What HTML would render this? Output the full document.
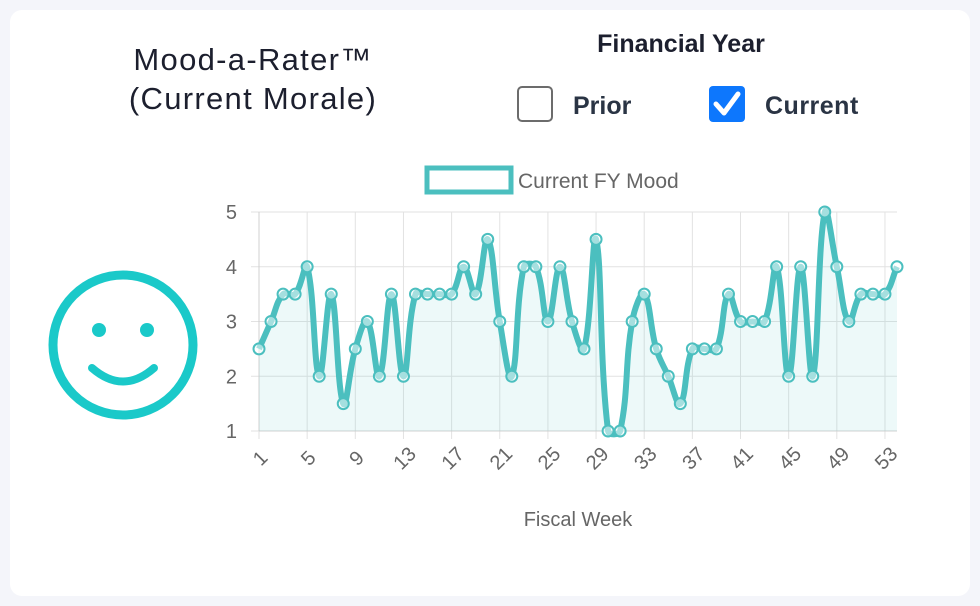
<!DOCTYPE html>
<html><head><meta charset="utf-8"><style>
body{margin:0;width:980px;height:606px;background:#f4f5fa;font-family:"Liberation Sans",sans-serif;overflow:hidden}
.card{position:absolute;left:10px;top:10px;width:960px;height:586px;background:#fff;border-radius:12px}
</style></head><body>
<div class="card"></div>
<svg width="980" height="606" style="position:absolute;left:0;top:0">
<text x="253" y="70" text-anchor="middle" font-size="31" letter-spacing="1.3" fill="#1c1f2e">Mood-a-Rater™</text>
<text x="253" y="109" text-anchor="middle" font-size="31" letter-spacing="1.3" fill="#1c1f2e">(Current Morale)</text>
<text x="681" y="52" text-anchor="middle" font-size="25" font-weight="bold" fill="#1c1f2e">Financial Year</text>
<rect x="518" y="87" width="34" height="34" rx="4" fill="#fff" stroke="#6c6c6c" stroke-width="2"/>
<text x="573" y="114" font-size="25" font-weight="bold" fill="#2a3444">Prior</text>
<rect x="709" y="86" width="36" height="36" rx="4" fill="#0d77fd"/>
<path d="M716 104 L724 113 L738 94" stroke="#fff" stroke-width="5" fill="none" stroke-linecap="round" stroke-linejoin="round"/>
<text x="765" y="114" font-size="25" font-weight="bold" fill="#2a3444" letter-spacing="0.5">Current</text>
<g>
<circle cx="123" cy="345" r="70" fill="none" stroke="#1ac9c9" stroke-width="9"/>
<circle cx="99" cy="330" r="7" fill="#1ac9c9"/><circle cx="147" cy="330" r="7" fill="#1ac9c9"/>
<path d="M92 368 Q123 395 154 368" stroke="#1ac9c9" stroke-width="8" fill="none" stroke-linecap="round"/>
</g>
<rect x="427" y="168" width="84" height="24" fill="#fff" stroke="#4bbfbf" stroke-width="5"/>
<text x="518" y="188" font-size="21" fill="#666">Current FY Mood</text>
<text x="578" y="526" text-anchor="middle" font-size="20" fill="#666">Fiscal Week</text>
<g id="plot"></g>
</svg>
<script>
const weeks=[];for(let i=1;i<=54;i++)weeks.push(i);
const moods=[2.5,3,3.5,3.5,4,2,3.5,1.5,2.5,3,2,3.5,2,3.5,3.5,3.5,3.5,4,3.5,4.5,3,2,4,4,3,4,3,2.5,4.5,1,1,3,3.5,2.5,2,1.5,2.5,2.5,2.5,3.5,3,3,3,4,2,4,2,5,4,3,3.5,3.5,3.5,4];
const yTicks=[1,2,3,4,5];
const X0=259,X1=897,Y0=431,Y1=212;
const xs=w=>X0+(w-1)*(X1-X0)/(weeks.length-1);
const ys=v=>Y0-(v-1)*(Y0-Y1)/4;
const NS="http://www.w3.org/2000/svg",g=document.getElementById('plot');
function mk(t,a){const e=document.createElementNS(NS,t);for(const k in a)e.setAttribute(k,a[k]);g.appendChild(e);return e;}
yTicks.forEach(v=>{
 const l=mk('line',{x1:251,x2:X1,y1:ys(v),y2:ys(v),stroke:'#e2e2e2','stroke-width':1});
 
 
 const t=mk('text',{x:237,y:ys(v)+7,'text-anchor':'end','font-size':20,fill:'#666'});t.textContent=v;
 
 
});
weeks.forEach(w=>{if((w-1)%4)return;
 const l=mk('line',{x1:xs(w),x2:xs(w),y1:Y1,y2:Y0+8,stroke:'#e2e2e2','stroke-width':1});
 
 
 const cx=xs(w)+1,cy=Y0+27;
 const t=mk('text',{x:cx,y:cy+7,'text-anchor':'middle','font-size':20,fill:'#666',transform:`rotate(-45 ${cx} ${cy})`});t.textContent=w;
 
 
});
mk('line',{x1:X0,x2:X0,y1:Y1,y2:Y0,stroke:'#d0d0d0'});
mk('line',{x1:X0,x2:X1,y1:Y0,y2:Y0,stroke:'#d0d0d0'});
const P=moods.map((v,i)=>[xs(weeks[i]),ys(v)]);
let d=`M${P[0][0]},${P[0][1]}`;const T=0.4;
for(let i=0;i<P.length-1;i++){
 const p0=P[i-1]||P[i],p1=P[i],p2=P[i+1],p3=P[i+2]||P[i+1];
 function cp(a,b,c){const d01=Math.hypot(b[0]-a[0],b[1]-a[1]),d12=Math.hypot(c[0]-b[0],c[1]-b[1]);let fa=d01/(d01+d12)||0,fb=d12/(d01+d12)||0;fa*=T;fb*=T;return[[b[0]-fa*(c[0]-a[0]),b[1]-fa*(c[1]-a[1])],[b[0]+fb*(c[0]-a[0]),b[1]+fb*(c[1]-a[1])]];}
 const c1=cp(p0,p1,p2)[1],c2=cp(p1,p2,p3)[0];
 d+=` C${c1[0]},${c1[1]} ${c2[0]},${c2[1]} ${p2[0]},${p2[1]}`;
}
const area=mk('path',{d:d+` L${P[P.length-1][0]},${Y0} L${P[0][0]},${Y0} Z`,fill:'rgba(75,192,192,0.1)'});


const line=mk('path',{d:d,fill:'none',stroke:'#4bbfbf','stroke-width':6,'stroke-linejoin':'round'});


P.forEach(p=>{const c=mk('circle',{cx:p[0],cy:p[1],r:5.5,fill:'rgba(255,255,255,0.5)',stroke:'#4bbfbf','stroke-width':2});
 
 });
</script>
</body></html>
